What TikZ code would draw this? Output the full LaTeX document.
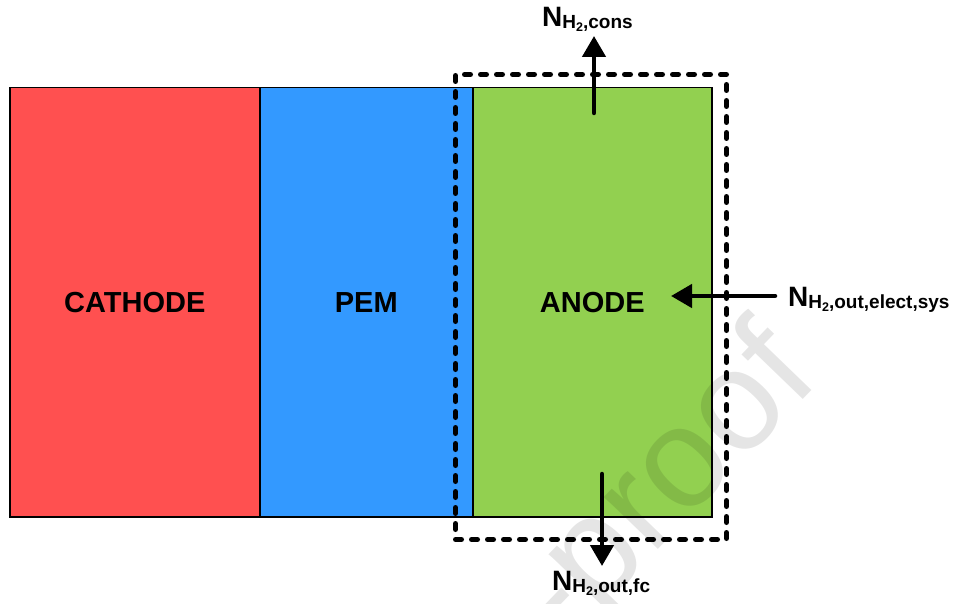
\documentclass[tikz,border=0pt]{standalone}
\usepackage{fontspec}
\setmainfont{Liberation Sans}
\usetikzlibrary{arrows.meta}
\definecolor{cathodered}{HTML}{FF5050}
\definecolor{pemblue}{HTML}{3399FF}
\definecolor{anodegreen}{HTML}{92D050}
% molar flow label N_{H2,<sub>}
\newcommand{\flowlabel}[1]{{\fontsize{28}{28}\selectfont N}\raisebox{-2pt}{\fontsize{19}{19}\selectfont H\raisebox{-3pt}{\fontsize{12.5}{12.5}\selectfont 2},#1}}
\begin{document}
\begin{tikzpicture}[x=1pt,y=-1pt,
  layer/.style={draw=black, line width=1.5pt, inner sep=0pt, anchor=north west,
    minimum height=429pt, font=\fontsize{29}{29}\selectfont\bfseries},
  ctrlbox/.style={draw=black, line width=5pt, line cap=round,
    dash pattern=on 6pt off 10pt, inner sep=0pt, anchor=north west},
  flow/.style={line width=4.5pt, line cap=round, -{Triangle[length=21pt,width=23pt]}},
  flowtext/.style={inner sep=0pt, anchor=base west, font=\bfseries}]
\useasboundingbox (0,0) rectangle (960,604);

% cell layers
\node[layer, fill=cathodered, minimum width=250pt] (cathode) at (9,87) {CATHODE};
\node[layer, fill=pemblue, minimum width=213pt] (pem) at (259,87) {PEM};
\node[layer, fill=anodegreen, minimum width=239pt] (anode) at (472,87) {ANODE};

% control volume around the anode
\node[ctrlbox, minimum width=271pt, minimum height=465pt] (cv) at (453,72) {};

% hydrogen flows
\coordinate (consTail) at (594,113);
\coordinate (consTip) at (594,36);
\coordinate (sysTail) at (775,296);
\coordinate (sysTip) at (671,296);
\coordinate (fcTail) at (602,474);
\coordinate (fcTip) at (602,566);
\draw[flow] (consTail) -- (consTip);
\draw[flow] (sysTail) -- (sysTip);
\draw[flow] (fcTail) -- (fcTip);

\node[flowtext] (ncons) at (542,27) {\flowlabel{cons}};
\node[flowtext] (nsys) at (788,306) {\flowlabel{out,elect,sys}};
\node[flowtext] (nfc) at (552,590) {\flowlabel{out,fc}};

% watermark
\begin{scope}
  \clip (0,0) rectangle (960,604);
  \node[rotate=46, anchor=base east, inner sep=0pt, text=black, text opacity=0.1,
    font=\fontsize{142}{142}\selectfont] (wm) at (822,380) {Journal Pre-proof};
\end{scope}
\end{tikzpicture}
\end{document}
